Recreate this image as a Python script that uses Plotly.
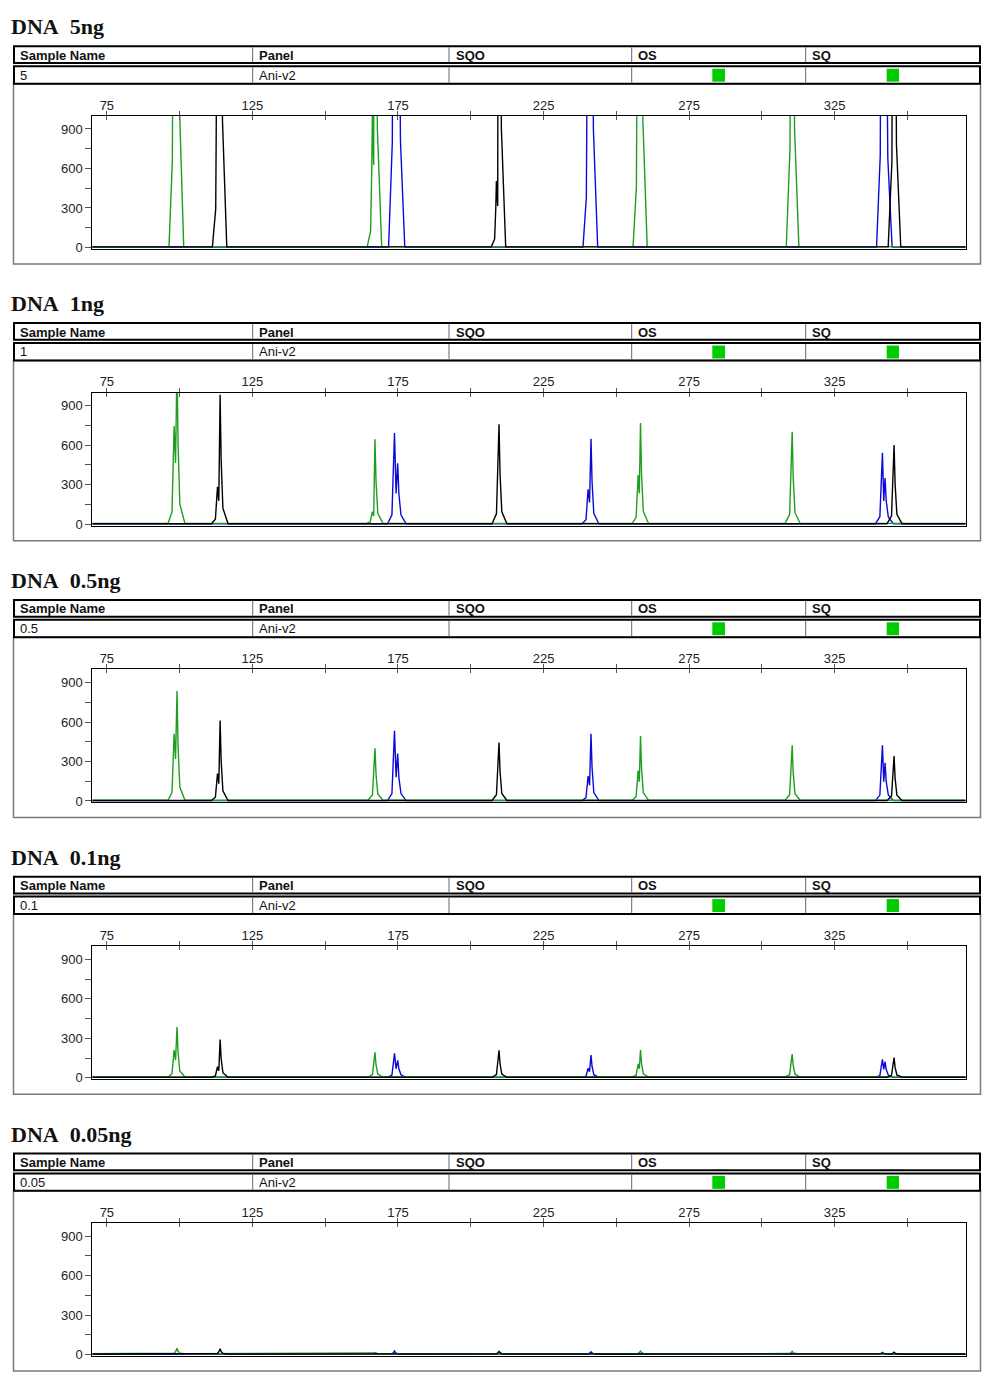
import plotly.graph_objects as go

# ---------------- data ----------------
titles = ["DNA\u00a0 5ng", "DNA\u00a0 1ng", "DNA\u00a0 0.5ng", "DNA\u00a0 0.1ng", "DNA\u00a0 0.05ng"]
sample_names = ["5", "1", "0.5", "0.1", "0.05"]
panel_name = "Ani-v2"
header_cols = ["Sample Name", "Panel", "SQO", "OS", "SQ"]

size_ticks = [75, 100, 125, 150, 175, 200, 225, 250, 275, 300, 325, 350]
size_labels = ["75", "", "125", "", "175", "", "225", "", "275", "", "325", ""]
rfu_ticks = [0, 150, 300, 450, 600, 750, 900]
rfu_labels = ["0", "", "300", "", "600", "", "900"]

# peaks (size in bp) and dye colour channel
peak_sizes = [99.1, 113.9, 167.1, 173.8, 209.7, 241.3, 258.3, 310.4, 341.4, 345.4]
peak_dyes = ["green", "black", "green", "blue", "black", "blue", "green", "green", "blue", "black"]
# offset (bp) of the shoulder / second allele relative to the main apex
shoulder_offsets = [-1.0, -0.9, -0.9, 1.1, -0.9, -1.0, -0.8, 0.0, 0.9, 0.0]

heights_5ng = [9000, 8000, 7500, 8000, 7500, 7500, 8000, 7500, 7000, 6500]
shoulders_5ng = [5400, 2400, 1000, 5400, 500, 3100, 3800, 0, 4500, 0]
heights_1ng = [1230, 980, 640, 690, 755, 646, 763, 696, 540, 597]
shoulders_1ng = [740, 280, 90, 460, 0, 263, 368, 0, 348, 0]
heights_05ng = [830, 607, 395, 530, 440, 507, 487, 417, 420, 337]
shoulders_05ng = [505, 205, 0, 357, 0, 187, 225, 0, 287, 0]
heights_01ng = [380, 287, 187, 182, 205, 170, 205, 175, 137, 150]
shoulders_01ng = [205, 80, 0, 130, 0, 70, 100, 0, 120, 0]
heights_005ng = [42, 40, 10, 24, 20, 18, 20, 18, 14, 14]
shoulders_005ng = [0, 0, 0, 0, 0, 0, 0, 0, 0, 0]

panel_heights = [heights_5ng, heights_1ng, heights_05ng, heights_01ng, heights_005ng]
panel_shoulders = [shoulders_5ng, shoulders_1ng, shoulders_05ng, shoulders_01ng, shoulders_005ng]
panel_peak_width = [1.35, 1.6, 1.6, 1.6, 1.6]
baseline_rfu = {"blue": 3, "green": 6, "black": 4}

# ---------------- style / layout ----------------
OFF = 8  # default page margin of the html body
W, H = 998 - OFF, 1382 - OFF
STEP = 278
dye_colors = {"blue": "#0a0ad8", "green": "#1e9e1e", "black": "#000000"}
dye_order = ["blue", "green", "black"]
SANS = "Liberation Sans, Arial, sans-serif"
SERIF = "Liberation Serif, Times New Roman, serif"
PLOT_L, PLOT_R = 92.3, 965.7
PLOT_T, PLOT_B = 116.3, 249.8
X_RANGE = [70, 370]
Y_RANGE = [-10, 1000]


def px(x):
    return (x - OFF) / W


def py(y):
    return 1 - (y - OFF) / H


def peak_vertices(c, h, d, s, k):
    """Polyline vertices of one electropherogram peak (with optional shoulder)."""
    if s > 0 and d < 0:
        return [(c + d - 1.3 * k, 0), (c + d - 0.45 * k, 0.12 * s), (c + d - 0.15 * k, 0.6 * s),
                (c + d, s), (c + d / 2, 0.62 * min(s, h)), (c, h),
                (c + 0.22 * k, 0.5 * h), (c + 0.6 * k, 0.12 * h), (c + 1.7 * k, 0)]
    if s > 0 and d > 0:
        return [(c - 1.5 * k, 0), (c - 0.55 * k, 0.1 * h), (c - 0.2 * k, 0.55 * h), (c, h),
                (c + d / 2, 0.5 * min(s, h)), (c + d, s), (c + d + 0.25 * k, 0.5 * s),
                (c + d + 0.7 * k, 0.15 * s), (c + d + 1.8 * k, 0)]
    return [(c - 1.5 * k, 0), (c - 0.55 * k, 0.1 * h), (c - 0.2 * k, 0.55 * h), (c, h),
            (c + 0.22 * k, 0.5 * h), (c + 0.6 * k, 0.12 * h), (c + 1.7 * k, 0)]


fig = go.Figure()
shapes = []
annotations = []
layout_axes = {}

col_div_x = [252.7, 449.0, 631.7, 805.7]
col_text_x = [18, 257, 454, 636, 810]
square_x = [(712.3, 725.0), (886.7, 899.0)]

for i in range(5):
    o = STEP * i
    n = i + 1
    for dye in dye_order:
        base = baseline_rfu[dye]
        pts = [(X_RANGE[0], base)]
        for j, c in enumerate(peak_sizes):
            if peak_dyes[j] != dye:
                continue
            for (x, y) in peak_vertices(c, panel_heights[i][j], shoulder_offsets[j],
                                        panel_shoulders[i][j], panel_peak_width[i]):
                pts.append((x, y + base))
        pts.append((X_RANGE[1], base))
        fig.add_trace(go.Scatter(
            x=[p[0] for p in pts], y=[p[1] for p in pts], mode="lines",
            line=dict(color=dye_colors[dye], width=1.4),
            xaxis=f"x{n}", yaxis=f"y{n}", showlegend=False, hoverinfo="skip"))
    fig.add_trace(go.Scatter(x=[None], y=[None], xaxis=f"x{n + 5}", yaxis=f"y{n}",
                             showlegend=False, hoverinfo="skip"))

    xdom = [px(PLOT_L), px(PLOT_R)]
    ydom = [py(PLOT_B + o), py(PLOT_T + o)]
    layout_axes[f"xaxis{n}"] = dict(
        domain=xdom, anchor=f"y{n}", side="top", range=X_RANGE,
        tickmode="array", tickvals=size_ticks, ticktext=size_labels,
        ticks="outside", ticklen=4, tickcolor="#555", tickwidth=1,
        ticklabelstandoff=-4,
        tickfont=dict(family=SANS, size=13, color="#222"),
        showline=True, linecolor="black", linewidth=1, mirror=True,
        showgrid=False, zeroline=False, fixedrange=True)
    layout_axes[f"xaxis{n + 5}"] = dict(
        domain=xdom, anchor=f"y{n}", overlaying=f"x{n}", side="top", range=X_RANGE,
        tickmode="array", tickvals=size_ticks, ticks="inside", ticklen=4,
        tickcolor="#555", tickwidth=1, showticklabels=False, showline=False,
        showgrid=False, zeroline=False, fixedrange=True)
    layout_axes[f"yaxis{n}"] = dict(
        domain=ydom, anchor=f"x{n}", range=Y_RANGE,
        tickmode="array", tickvals=rfu_ticks, ticktext=rfu_labels,
        ticks="outside", ticklen=6, tickcolor="#555", tickwidth=1,
        tickfont=dict(family=SANS, size=13, color="#222"),
        showline=True, linecolor="black", linewidth=1, mirror=True,
        showgrid=False, zeroline=False, fixedrange=True)

    shapes.append(dict(type="rect", xref="paper", yref="paper",
                       x0=px(13.5), x1=px(980.5), y0=py(265 + o), y1=py(84 + o),
                       line=dict(color="#7a7a7a", width=1.5)))
    for (t, b) in [(46.5, 63.3), (66.5, 84.0)]:
        shapes.append(dict(type="rect", xref="paper", yref="paper",
                           x0=px(14), x1=px(980), y0=py(b + o), y1=py(t + o),
                           line=dict(color="black", width=2)))
        for xd in col_div_x:
            shapes.append(dict(type="line", xref="paper", yref="paper",
                               x0=px(xd), x1=px(xd), y0=py(b - 1 + o), y1=py(t + 1 + o),
                               line=dict(color="#666", width=1)))
    for (x0, x1) in square_x:
        shapes.append(dict(type="rect", xref="paper", yref="paper",
                           x0=px(x0), x1=px(x1), y0=py(82 + o), y1=py(69 + o),
                           fillcolor="#00cc00", line=dict(width=0)))

    annotations.append(dict(text=f"<b>{titles[i]}</b>", xref="paper", yref="paper",
                            x=px(9), y=py(27 + o), xanchor="left", yanchor="middle",
                            showarrow=False, font=dict(family=SERIF, size=22, color="#111")))
    for cx, label in zip(col_text_x, header_cols):
        annotations.append(dict(text=f"<b>{label}</b>", xref="paper", yref="paper",
                                x=px(cx), y=py(55.5 + o), xanchor="left", yanchor="middle",
                                showarrow=False, font=dict(family=SANS, size=13, color="#111")))
    annotations.append(dict(text=sample_names[i], xref="paper", yref="paper",
                            x=px(col_text_x[0]), y=py(75.5 + o), xanchor="left", yanchor="middle",
                            showarrow=False, font=dict(family=SANS, size=13, color="#111")))
    annotations.append(dict(text=panel_name, xref="paper", yref="paper",
                            x=px(col_text_x[1]), y=py(75.5 + o), xanchor="left", yanchor="middle",
                            showarrow=False, font=dict(family=SANS, size=13, color="#111")))

fig.update_layout(
    width=W, height=H, autosize=False,
    margin=dict(l=0, r=0, t=0, b=0),
    paper_bgcolor="white", plot_bgcolor="white",
    shapes=shapes, annotations=annotations, showlegend=False,
    **layout_axes)

fig.write_html("out.html")
